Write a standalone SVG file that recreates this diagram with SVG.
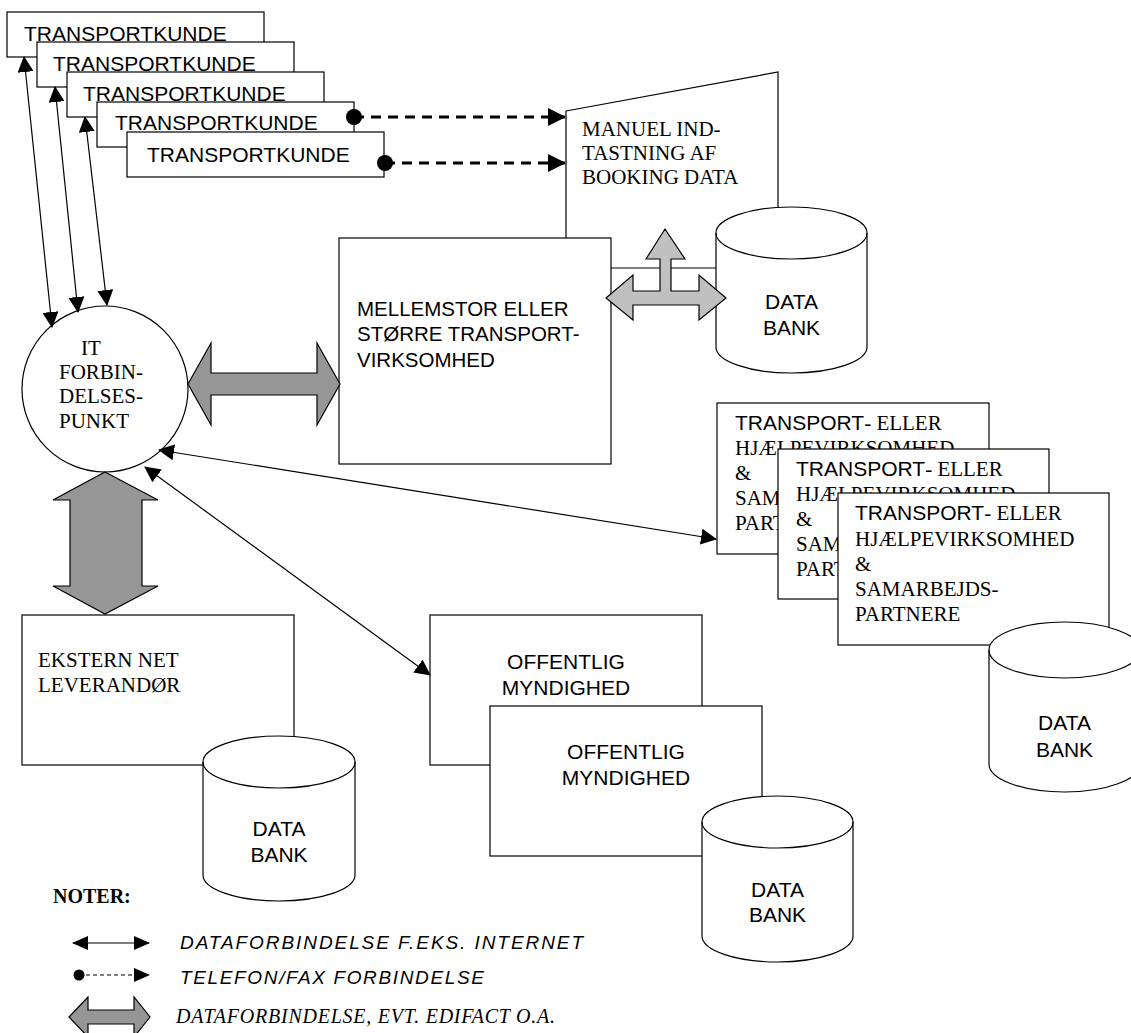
<svg xmlns="http://www.w3.org/2000/svg" width="1131" height="1033" viewBox="0 0 1131 1033">
<style>
.box{fill:#fff;stroke:#000;stroke-width:1.2}
.cyl{fill:#fff;stroke:#000;stroke-width:1.2}
.rim{fill:none;stroke:#000;stroke-width:1.2}
.sans{font-family:"Liberation Sans",Arial,sans-serif;fill:#000}
.serif{font-family:"Liberation Serif","Times New Roman",serif;fill:#000}
.t21{font-size:21px}
.t20{font-size:20px}
.thin{fill:none;stroke:#000;stroke-width:1.2}
.dash{fill:none;stroke:#000;stroke-width:3;stroke-dasharray:10 7}
.dashs{fill:none;stroke:#000;stroke-width:1.2;stroke-dasharray:4 3}
.gray{fill:#969696;stroke:#000;stroke-width:1.2}
.lgray{fill:#c0c0c0;stroke:#000;stroke-width:1.2}
</style>
<defs>
<marker id="ah" viewBox="0 0 16 16" refX="15" refY="8" markerWidth="16" markerHeight="16" markerUnits="userSpaceOnUse" orient="auto-start-reverse"><path d="M0,0 L16,8 L0,16 z"/></marker>
<marker id="dh" viewBox="0 0 18 18" refX="17" refY="9" markerWidth="18" markerHeight="18" markerUnits="userSpaceOnUse" orient="auto"><path d="M0,0 L18,9 L0,18 z"/></marker>
<marker id="sh" viewBox="0 0 16 14" refX="15" refY="7" markerWidth="16" markerHeight="14" markerUnits="userSpaceOnUse" orient="auto-start-reverse"><path d="M0,0 L16,7 L0,14 z"/></marker>
</defs>
<rect width="1131" height="1033" fill="#fff"/>

<g id="kunde1"><rect class="box" x="7" y="12" width="257" height="45"/><text class="sans t21" x="24" y="41">TRANSPORTKUNDE</text></g>
<g id="kunde2"><rect class="box" x="37" y="42" width="257" height="45"/><text class="sans t21" x="53" y="71">TRANSPORTKUNDE</text></g>
<g id="kunde3"><rect class="box" x="67" y="72" width="257" height="45"/><text class="sans t21" x="83" y="101">TRANSPORTKUNDE</text></g>
<g id="kunde4"><rect class="box" x="97" y="102" width="257" height="45"/><text class="sans t21" x="115" y="130">TRANSPORTKUNDE</text></g>
<g id="kunde5"><rect class="box" x="127" y="132" width="257" height="45"/><text class="sans t21" x="147" y="162">TRANSPORTKUNDE</text></g>

<g id="manuel"><polygon class="box" points="566,111 778,72 778,268 566,268"/>
<text class="serif t21"><tspan x="582" y="136">MANUEL IND-</tspan><tspan x="582" y="160">TASTNING AF</tspan><tspan x="582" y="184">BOOKING DATA</tspan></text></g>

<g id="mellemstor"><rect class="box" x="339" y="238" width="272" height="226"/>
<text class="sans" font-size="20.5"><tspan x="357" y="316">MELLEMSTOR ELLER</tspan><tspan x="357" y="341">STØRRE TRANSPORT-</tspan><tspan x="357" y="367">VIRKSOMHED</tspan></text></g>

<g id="databank1"><path class="cyl" d="M716,233 A75.5,26 0 0 1 867,233 V347 A75.5,26 0 0 1 716,347 Z"/><path class="rim" d="M716,233 A75.5,26 0 0 0 867,233"/>
<text class="sans t21" text-anchor="middle" x="791.5" y="309">DATA</text><text class="sans t21" text-anchor="middle" x="791.5" y="335">BANK</text></g>

<g id="itpunkt"><circle class="box" cx="105" cy="389" r="83"/>
<text class="serif t21"><tspan x="81" y="355">IT</tspan><tspan x="59" y="379">FORBIN-</tspan><tspan x="59" y="403">DELSES-</tspan><tspan x="59" y="428">PUNKT</tspan></text></g>

<g id="partner1"><rect class="box" x="717" y="403" width="272" height="151"/>
<text class="serif t21"><tspan x="735" y="430"><tspan class="sans">TRANSPORT</tspan>- ELLER</tspan><tspan x="735" y="455">HJÆLPEVIRKSOMHED</tspan><tspan x="735" y="480">&amp;</tspan><tspan x="735" y="505">SAMARBEJDS-</tspan><tspan x="735" y="530">PARTNERE</tspan></text></g>
<g id="partner2"><rect class="box" x="778" y="449" width="271" height="150"/>
<text class="serif t21"><tspan x="796" y="476"><tspan class="sans">TRANSPORT</tspan>- ELLER</tspan><tspan x="796" y="501">HJÆLPEVIRKSOMHED</tspan><tspan x="796" y="526">&amp;</tspan><tspan x="796" y="551">SAMARBEJDS-</tspan><tspan x="796" y="576">PARTNERE</tspan></text></g>
<g id="partner3"><rect class="box" x="838" y="493" width="271" height="152"/>
<text class="serif t21"><tspan x="855" y="520"><tspan class="sans">TRANSPORT</tspan>- ELLER</tspan><tspan x="855" y="546">HJÆLPEVIRKSOMHED</tspan><tspan x="855" y="571">&amp;</tspan><tspan x="855" y="596">SAMARBEJDS-</tspan><tspan x="855" y="621">PARTNERE</tspan></text></g>

<g id="databank2"><path class="cyl" d="M989,650 A75.5,28 0 0 1 1140,650 V764 A75.5,28 0 0 1 989,764 Z"/><path class="rim" d="M989,650 A75.5,28 0 0 0 1140,650"/>
<text class="sans t21" text-anchor="middle" x="1064.5" y="730">DATA</text><text class="sans t21" text-anchor="middle" x="1064.5" y="757">BANK</text></g>

<g id="ekstern"><rect class="box" x="22" y="615" width="272" height="150"/>
<text class="serif t21"><tspan x="38" y="667">EKSTERN NET</tspan><tspan x="38" y="692">LEVERANDØR</tspan></text></g>
<g id="databank3"><path class="cyl" d="M203,762 A76,26 0 0 1 355,762 V875 A76,26 0 0 1 203,875 Z"/><path class="rim" d="M203,762 A76,26 0 0 0 355,762"/>
<text class="sans t21" text-anchor="middle" x="279" y="836">DATA</text><text class="sans t21" text-anchor="middle" x="279" y="862">BANK</text></g>

<g id="offentlig1"><rect class="box" x="430" y="615" width="272" height="150"/>
<text class="sans t21" text-anchor="middle"><tspan x="566" y="669">OFFENTLIG</tspan><tspan x="566" y="695">MYNDIGHED</tspan></text></g>
<g id="offentlig2"><rect class="box" x="490" y="706" width="272" height="150"/>
<text class="sans t21" text-anchor="middle"><tspan x="626" y="759">OFFENTLIG</tspan><tspan x="626" y="785">MYNDIGHED</tspan></text></g>
<g id="databank4"><path class="cyl" d="M702,822 A75.5,26 0 0 1 853,822 V936 A75.5,26 0 0 1 702,936 Z"/><path class="rim" d="M702,822 A75.5,26 0 0 0 853,822"/>
<text class="sans t21" text-anchor="middle" x="777.5" y="897">DATA</text><text class="sans t21" text-anchor="middle" x="777.5" y="922">BANK</text></g>

<g id="connectors">
<line class="thin" x1="24" y1="57" x2="52" y2="327" marker-start="url(#ah)" marker-end="url(#ah)"/>
<line class="thin" x1="55" y1="87" x2="78" y2="312" marker-start="url(#ah)" marker-end="url(#ah)"/>
<line class="thin" x1="85" y1="117" x2="107" y2="305" marker-start="url(#ah)" marker-end="url(#ah)"/>
<line class="thin" x1="159" y1="450" x2="716" y2="539" marker-start="url(#ah)" marker-end="url(#ah)"/>
<line class="thin" x1="145" y1="467" x2="430" y2="675" marker-start="url(#ah)" marker-end="url(#ah)"/>
<line class="dash" x1="354" y1="117" x2="565" y2="117" marker-end="url(#dh)"/>
<circle cx="354" cy="117" r="8"/>
<line class="dash" x1="385" y1="163" x2="565" y2="163" marker-end="url(#dh)"/>
<circle cx="385" cy="163" r="8"/>
<polygon class="gray" points="188,384 211,343 211,373 317,373 317,343 340,384 317,425 317,395 211,395 211,425"/>
<polygon class="gray" points="105,472 158,500 142,500 142,586 158,586 105,614 53,586 70,586 70,500 53,500"/>
<polygon class="lgray" points="606,298 633,275 633,291 660,291 660,259 646,259 665,229 685,259 671,259 671,291 699,291 699,275 726,298 699,320 699,305 633,305 633,320"/>
</g>

<g id="legend">
<text class="serif" font-size="20" font-weight="bold" x="53" y="903">NOTER:</text>
<line class="thin" x1="73" y1="943" x2="149" y2="943" marker-start="url(#sh)" marker-end="url(#sh)"/>
<text class="sans" font-size="19" font-style="italic" x="180" y="949" textLength="403" lengthAdjust="spacing">DATAFORBINDELSE F.EKS. INTERNET</text>
<line class="dashs" x1="79" y1="975" x2="149" y2="975" marker-end="url(#sh)"/>
<circle cx="79" cy="975" r="5.5"/>
<text class="sans" font-size="19" font-style="italic" x="180" y="984" textLength="304" lengthAdjust="spacing">TELEFON/FAX FORBINDELSE</text>
<polygon class="gray" points="69,1017 88,997 88,1010 134,1010 134,997 150,1017 134,1037 134,1024 88,1024 88,1037"/>
<text class="serif" font-size="20" font-style="italic" x="176" y="1023" textLength="379" lengthAdjust="spacing">DATAFORBINDELSE, EVT. EDIFACT O.A.</text>
</g>
</svg>
